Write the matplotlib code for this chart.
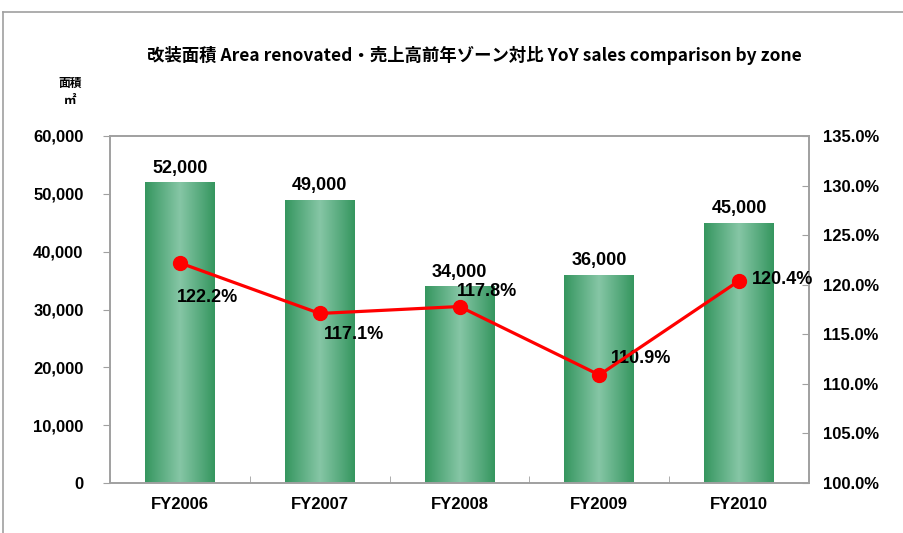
import matplotlib
matplotlib.use('Agg')

import numpy as np
import matplotlib.pyplot as plt
from matplotlib.lines import Line2D
from matplotlib.colors import LinearSegmentedColormap

# data
years = ['FY2006', 'FY2007', 'FY2008', 'FY2009', 'FY2010']
area = [52000, 49000, 34000, 36000, 45000]
yoy = [122.2, 117.1, 117.8, 110.9, 120.4]
area_ticks = [0, 10000, 20000, 30000, 40000, 50000, 60000]
yoy_ticks = [100, 105, 110, 115, 120, 125, 130, 135]

title = '改装面積 Area renovated・売上高前年ゾーン対比 YoY sales comparison by zone'

plt.rcParams['font.family'] = ['Noto Sans CJK JP', 'DejaVu Sans']
latin = ['Liberation Sans', 'DejaVu Sans']

fig = plt.figure(figsize=(9.04, 5.33), dpi=100)
ax = fig.add_axes([110 / 904, 1 - 483 / 533, 699 / 904, 347 / 533])
ax2 = ax.twinx()

# outer chart frame (left + top edge only visible in the crop)
fig.add_artist(Line2D([3.5 / 904, 3.5 / 904], [0, 1 - 12 / 533], color='#a0a0a0', lw=1.2))
fig.add_artist(Line2D([3.5 / 904, 1], [1 - 12 / 533, 1 - 12 / 533], color='#a0a0a0', lw=1.2))

x = np.arange(len(years))
bars = ax.bar(x, area, width=0.5, color='none', edgecolor='none', zorder=2)

# horizontal gradient inside each bar: dark edges, light centre
cmap = LinearSegmentedColormap.from_list('g', ['#35965f', '#86c6a6', '#35965f'])
grad = np.linspace(0, 1, 256).reshape(1, -1)
for b in bars:
    im = ax.imshow(grad, cmap=cmap, aspect='auto', zorder=2,
                   extent=[b.get_x(), b.get_x() + b.get_width(), 0, b.get_height()])
    im.set_clip_path(b)

ax.set_xlim(-0.5, len(years) - 0.5)
ax.set_ylim(0, 60000)
ax.set_yticks(area_ticks)
ax.set_yticklabels([f'{v:,}' for v in area_ticks], fontfamily=latin,
                   fontweight='bold', fontsize=12)
ax.set_xticks(x)
ax.set_xticklabels(years, fontfamily=latin, fontweight='bold', fontsize=12)
ax.set_xticks(np.arange(len(years) + 1) - 0.5, minor=True)
ax.tick_params(axis='x', which='major', length=0, pad=10)
ax.tick_params(axis='x', which='minor', direction='in', length=5, color='#a0a0a0')
ax.tick_params(axis='y', direction='out', length=5, color='#a0a0a0', pad=14)

for v, b in zip(area, bars):
    ax.annotate(f'{v:,}', (b.get_x() + b.get_width() / 2, v), xytext=(0, 4),
                textcoords='offset points', ha='center', va='bottom',
                fontfamily=latin, fontweight='bold', fontsize=13)

ax2.plot(x, yoy, color='#ff0000', lw=2.3, marker='o', markersize=10, zorder=5)
ax2.set_ylim(100, 135)
ax2.set_yticks(yoy_ticks)
ax2.set_yticklabels([f'{v:.1f}%' for v in yoy_ticks], fontfamily=latin,
                    fontweight='bold', fontsize=12)
ax2.tick_params(axis='y', direction='in', length=5, color='#a0a0a0', pad=10)

label_offsets = [(20, -25), (25, -15), (20, 11), (30, 12), (9, 1)]
label_ha = ['center', 'center', 'center', 'center', 'left']
for xi, v, off, ha in zip(x, yoy, label_offsets, label_ha):
    ax2.annotate(f'{v:.1f}%', (xi, v), xytext=off, textcoords='offset points',
                 ha=ha, va='center', fontfamily=latin, fontweight='bold', fontsize=13)

for a in (ax, ax2):
    for s in a.spines.values():
        s.set_color('#a0a0a0')
        s.set_linewidth(1.2)

fig.text(474 / 904, 1 - 55 / 533, title, ha='center', va='center',
         fontsize=12.5, fontweight='bold')
fig.text(70 / 904, 1 - 83 / 533, '面積', ha='center', va='center', fontsize=8.5, fontweight='bold')
fig.text(70 / 904, 1 - 101 / 533, '㎡', ha='center', va='center', fontsize=9, fontweight='bold')

fig.savefig('out.png', dpi=100)
plt.close(fig)
